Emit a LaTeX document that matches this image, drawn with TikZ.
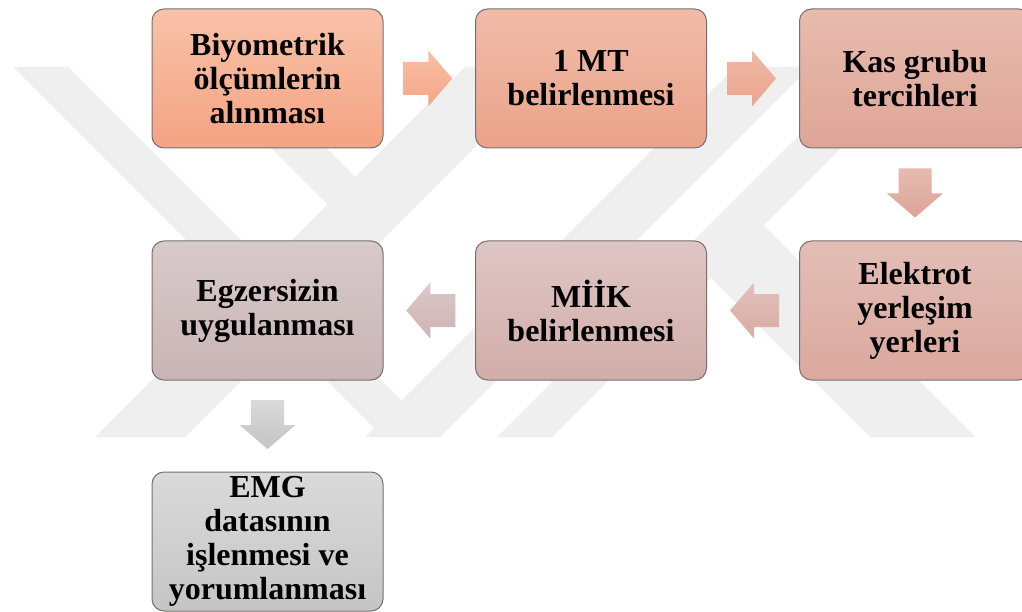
\documentclass[tikz,border=0pt]{standalone}
\usepackage{fontspec}
\setmainfont{Liberation Serif}
\usetikzlibrary{calc}
\definecolor{boxline}{HTML}{767070}
\definecolor{wmgray}{HTML}{EFEFEF}
\definecolor{bAt}{HTML}{F8C2A8}\definecolor{bAb}{HTML}{F5A383}
\definecolor{bBt}{HTML}{F0BCA8}\definecolor{bBb}{HTML}{EBA28A}
\definecolor{bCt}{HTML}{E7BBAE}\definecolor{bCb}{HTML}{DFA597}
\definecolor{bDt}{HTML}{E2BEB7}\definecolor{bDb}{HTML}{DBA89E}
\definecolor{bEt}{HTML}{DEC6C4}\definecolor{bEb}{HTML}{D2ADAA}
\definecolor{bFt}{HTML}{D9CACA}\definecolor{bFb}{HTML}{C8B4B5}
\definecolor{bGt}{HTML}{DADADA}\definecolor{bGb}{HTML}{C5C5C5}
\definecolor{aAt}{HTML}{F8BFA5}\definecolor{aAb}{HTML}{F5A688}
\definecolor{aBt}{HTML}{EFB9A6}\definecolor{aBb}{HTML}{EBA48E}
\definecolor{aCt}{HTML}{E6BBB0}\definecolor{aCb}{HTML}{DDA396}
\definecolor{aDt}{HTML}{E3C1BC}\definecolor{aDb}{HTML}{D9AAA4}
\definecolor{aEt}{HTML}{DBC8C7}\definecolor{aEb}{HTML}{CFB3B4}
\definecolor{aFt}{HTML}{D9D9D9}\definecolor{aFb}{HTML}{C4C4C4}
\begin{document}
\begin{tikzpicture}[x=1pt,y=-1pt,
  box/.style={draw=boxline, line width=1pt, rounded corners=12pt,
    minimum width=231pt, minimum height=139pt, inner sep=0pt,
    align=center, font=\fontsize{32}{34}\selectfont\bfseries, text=black},
  wm/.style={fill=wmgray},
  rarrow/.pic={\shade[pic actions] (-26,-16.5) -- (-1,-16.5) -- (-1,-28) -- (23,0) -- (-1,28) -- (-1,16.5) -- (-26,16.5) -- cycle;},
  larrow/.pic={\shade[pic actions] (26,-16.5) -- (1,-16.5) -- (1,-28) -- (-23,0) -- (1,28) -- (1,16.5) -- (26,16.5) -- cycle;},
  darrow/.pic={\shade[pic actions] (-16.5,-26) -- (16.5,-26) -- (16.5,-1) -- (28,-1) -- (0,23) -- (-28,-1) -- (-16.5,-1) -- cycle;}
]
\useasboundingbox (0,0) rectangle (1022,612);
\fill[white] (0,0) rectangle (1022,612);
% watermark
\fill[wm] (13,67) -- (68,67) -- (438,437) -- (383,437) -- cycle;
\fill[wm] (95,437) -- (185,437) -- (555,67) -- (465,67) -- cycle;
\fill[wm] (190,67) -- (245,67) -- (355,177) -- (327.5,204.5) -- cycle;
\fill[wm] (365,437) -- (440,437) -- (810,67) -- (735,67) -- cycle;
\fill[wm] (497,437) -- (552,437) -- (922,67) -- (867,67) -- cycle;
\fill[wm] (711,278) -- (763.5,225.5) -- (975,437) -- (870,437) -- cycle;
% boxes
\node[box, top color=bAt, bottom color=bAb] (b1) at (267.5,78.5) {Biyometrik\\ölçümlerin\\alınması};
\node[box, top color=bBt, bottom color=bBb] (b2) at (591,78.5) {1 MT\\belirlenmesi};
\node[box, top color=bCt, bottom color=bCb] (b3) at (915,78.5) {Kas grubu\\tercihleri};
\node[box, top color=bDt, bottom color=bDb] (b4) at (915,310.5) {Elektrot\\yerleşim\\yerleri};
\node[box, top color=bEt, bottom color=bEb] (b5) at (591,310.5) {MİİK\\belirlenmesi};
\node[box, top color=bFt, bottom color=bFb] (b6) at (267.5,310.5) {Egzersizin\\uygulanması};
\node[box, top color=bGt, bottom color=bGb] (b7) at (267.5,541.5) {EMG\\datasının\\işlenmesi ve\\yorumlanması};
% arrows
\coordinate (m12) at ($(b1.east)!0.5!(b2.west)$);
\coordinate (m23) at ($(b2.east)!0.5!(b3.west)$);
\coordinate (m34) at ($(b3.south)!0.5!(b4.north)$);
\coordinate (m45) at ($(b4.west)!0.5!(b5.east)$);
\coordinate (m56) at ($(b5.west)!0.5!(b6.east)$);
\coordinate (m67) at ($(b6.south)!0.5!(b7.north)$);
\pic[top color=aAt, bottom color=aAb] at (m12) {rarrow};
\pic[top color=aBt, bottom color=aBb] at (m23) {rarrow};
\pic[top color=aCt, bottom color=aCb] at (m34) {darrow};
\pic[top color=aDt, bottom color=aDb] at (m45) {larrow};
\pic[top color=aEt, bottom color=aEb] at (m56) {larrow};
\pic[top color=aFt, bottom color=aFb] at (m67) {darrow};
\end{tikzpicture}
\end{document}
